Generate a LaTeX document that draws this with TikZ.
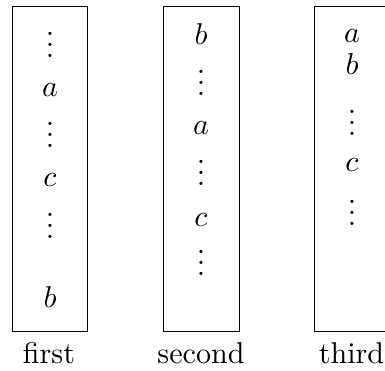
\documentclass[tikz,border=0pt]{standalone}
\newcommand\myvdots{\vbox{\baselineskip4pt\lineskiplimit0pt\hbox{.}\hbox{.}\hbox{.}}}
\begin{document}
\begin{tikzpicture}[x=0.363636pt,y=-0.363636pt,
  item/.style={anchor=base,inner sep=0pt,font=\fontsize{10.95}{13.6}\selectfont},
  col/.style={draw,line width=0.4pt}]
\useasboundingbox (0,0) rectangle (385,371);
% boxes
\draw[col] (12.3,6.3) rectangle (87.7,331.5);
\draw[col] (163.3,6.3) rectangle (239.3,331.5);
\draw[col] (314.3,6.3) rectangle (390,331.5);
% first
\node[item] (f1) at (50,57.6) {\myvdots};
\node[item] (f2) at (50,97) {$a$};
\node[item] (f3) at (50,147.6) {\myvdots};
\node[item] (f4) at (50,187) {$c$};
\node[item] (f5) at (50,238.6) {\myvdots};
\node[item] (f6) at (50,308) {$b$};
% second
\node[item] (s1) at (201,45) {$b$};
\node[item] (s2) at (201,95.6) {\myvdots};
\node[item] (s3) at (201,135) {$a$};
\node[item] (s4) at (201,185.6) {\myvdots};
\node[item] (s5) at (201,227) {$c$};
\node[item] (s6) at (201,275.6) {\myvdots};
% third
\node[item] (t1) at (352,43) {$a$};
\node[item] (t2) at (352,75) {$b$};
\node[item] (t3) at (352,135.6) {\myvdots};
\node[item] (t4) at (352,172) {$c$};
\node[item] (t5) at (352,225.6) {\myvdots};
% labels
\node[item] (l1) at (49,364) {first};
\node[item] (l2) at (201,364) {second};
\node[item] (l3) at (351.5,364) {third};
\end{tikzpicture}
\end{document}
